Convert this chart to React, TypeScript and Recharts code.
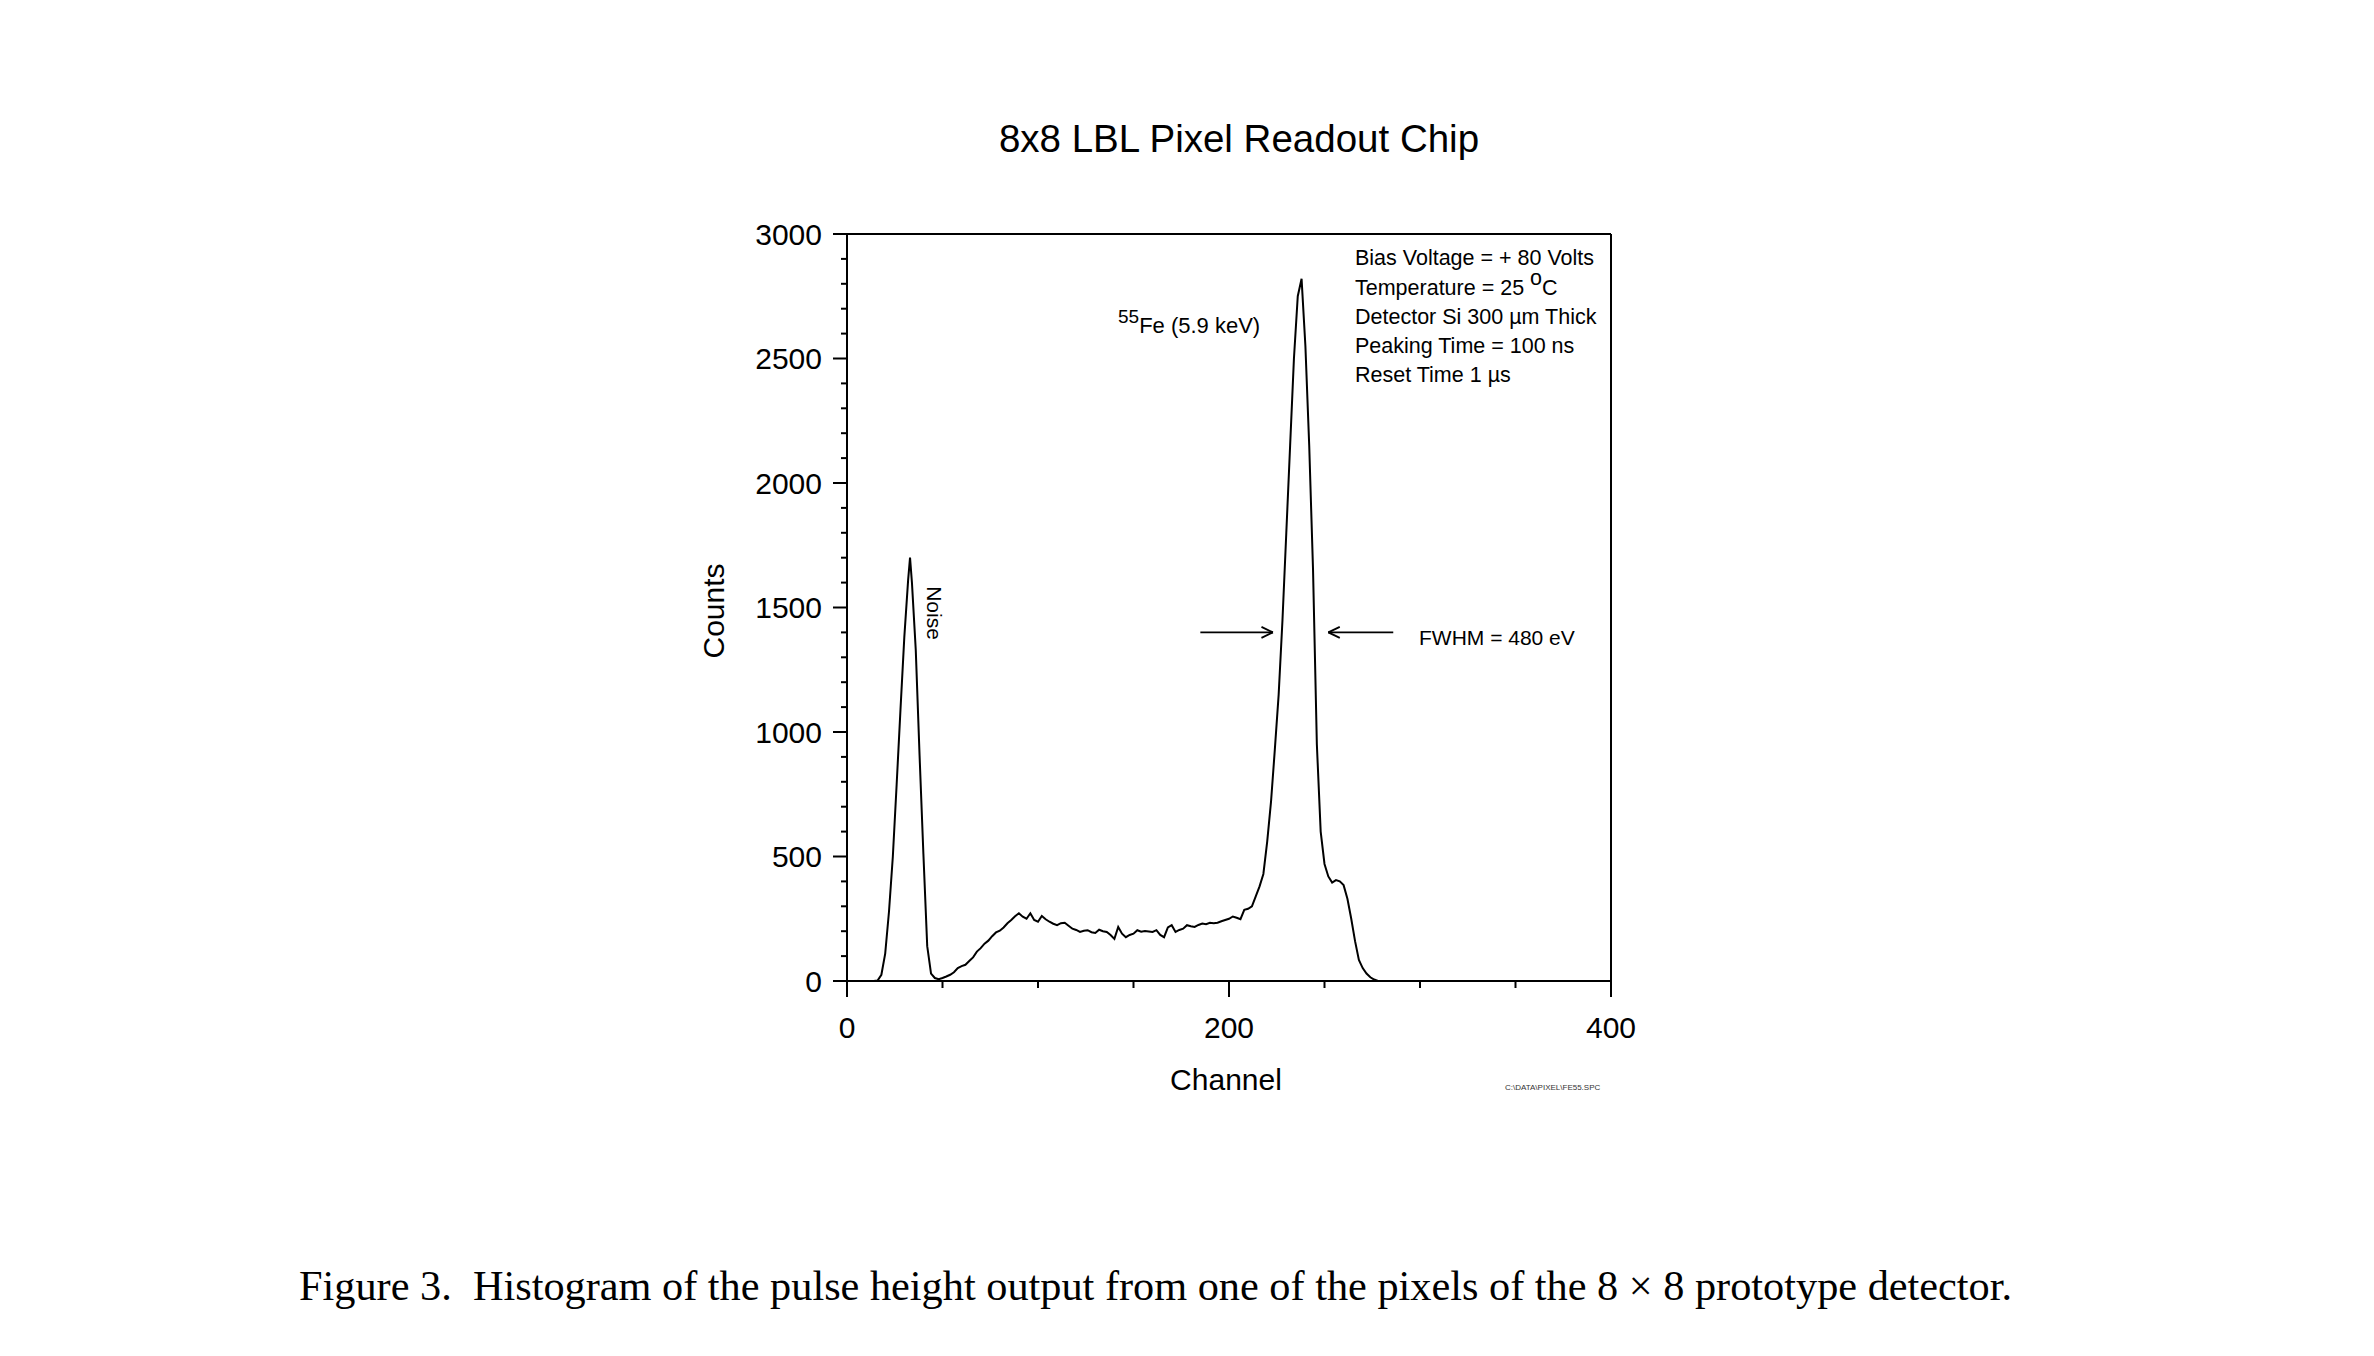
import React from "react"
import { LineChart, Line, XAxis, YAxis, ReferenceLine } from "recharts"

// pulse height histogram (mostly every 2nd channel)
const channels = [
  0, 2, 4, 6, 8, 10, 12, 14, 16, 18, 20, 22, 24, 26, 28, 30, 32, 33, 34, 36, 38,
  40, 42, 44, 46, 48, 50, 52, 54, 56, 58, 60, 62, 64, 66, 68, 70, 72, 74, 76, 78,
  80, 82, 84, 86, 88, 90, 92, 94, 96, 98, 100, 102, 104, 106, 108, 110, 112, 114, 116, 118,
  120, 122, 124, 126, 128, 130, 132, 134, 136, 138, 140, 142, 144, 146, 148, 150, 152, 154, 156, 158,
  160, 162, 164, 166, 168, 170, 172, 174, 176, 178, 180, 182, 184, 186, 188, 190, 192, 194, 196, 198,
  200, 202, 204, 206, 208, 210, 212, 214, 216, 218, 220, 222, 224, 226, 228, 230, 232, 234, 236, 238,
  240, 242, 244, 246, 248, 250, 252, 254, 256, 258, 260, 262, 264, 266, 268, 270, 272, 274, 276, 278,
  280, 282, 284, 286, 288, 290,
]

const counts = [
  0, 0, 0, 0, 0, 0, 0, 0, 2, 25, 110, 280, 500, 790, 1090, 1380, 1610, 1700, 1600, 1330, 905,
  510, 140, 30, 12, 7, 12, 18, 25, 35, 52, 60, 65, 80, 95, 118, 132, 150, 162, 180, 195,
  202, 215, 232, 245, 260, 272, 258, 250, 272, 245, 238, 261, 248, 238, 230, 224, 232, 234, 222, 210,
  205, 197, 202, 204, 196, 193, 206, 200, 197, 185, 169, 217, 190, 176, 185, 190, 204, 198, 201, 199,
  197, 204, 185, 176, 215, 224, 197, 205, 210, 224, 220, 217, 225, 231, 228, 234, 232, 234, 240, 245,
  250, 259, 254, 248, 286, 290, 300, 340, 380, 430, 560, 720, 930, 1150, 1450, 1800, 2150, 2500, 2750, 2820,
  2550, 2150, 1650, 950, 600, 470, 420, 395, 405, 400, 385, 330, 250, 160, 85, 52, 30, 15, 6, 0,
  0, 0, 0, 0, 0, 0,
]

const xTicks = [0, 50, 100, 150, 200, 250, 300, 350, 400]
const xLabelled = [0, 200, 400]
const yTicks = Array.from({ length: 31 }, (_, i) => i * 100)
const yLabelled = [0, 500, 1000, 1500, 2000, 2500, 3000]

const settings = [
  "Bias Voltage = + 80 Volts",
  "Temperature = 25 ",
  "Detector Si 300 \u00b5m Thick",
  "Peaking Time = 100 ns",
  "Reset Time 1 \u00b5s",
]

// FWHM arrows (channel, counts)
const fwhmLevel = 1400
const leftArrow = [185, 223]
const rightArrow = [286, 252]

const data = channels.map((ch, i) => ({ ch, counts: counts[i] }))

const W = 2374
const H = 1356
const FONT = "'Liberation Sans', Arial, Helvetica, sans-serif"

const YTick = (props: any) => {
  const { x, y, payload } = props
  const v = payload.value
  const major = yLabelled.includes(v)
  return (
    <g>
      <line x1={x} x2={x - (major ? 14 : 6)} y1={y} y2={y} stroke="#000" strokeWidth={2} />
      {major && (
        <text x={x - 25} y={y} dy="0.36em" textAnchor="end" fontSize={30} fontFamily={FONT} fill="#000">
          {v}
        </text>
      )}
    </g>
  )
}

const XTick = (props: any) => {
  const { x, y, payload } = props
  const v = payload.value
  const major = xLabelled.includes(v)
  return (
    <g>
      <line x1={x} x2={x} y1={y} y2={y + (major ? 16 : 7)} stroke="#000" strokeWidth={2} />
      {major && (
        <text x={x} y={y + 46} dy="0.36em" textAnchor="middle" fontSize={30} fontFamily={FONT} fill="#000">
          {v}
        </text>
      )}
    </g>
  )
}

const arrow = (from: number, to: number, key: string) => {
  const dir = to > from ? 1 : -1
  return [
    <ReferenceLine key={key + "s"} segment={[{ x: from, y: fwhmLevel }, { x: to, y: fwhmLevel }]} stroke="#000" strokeWidth={1.8} />,
    <ReferenceLine key={key + "a"} segment={[{ x: to - dir * 6, y: fwhmLevel + 22 }, { x: to, y: fwhmLevel }]} stroke="#000" strokeWidth={1.8} />,
    <ReferenceLine key={key + "b"} segment={[{ x: to - dir * 6, y: fwhmLevel - 22 }, { x: to, y: fwhmLevel }]} stroke="#000" strokeWidth={1.8} />,
  ]
}

export default function App() {
  return (
    <div style={{ position: "absolute", left: 0, top: 0, width: W, height: H, overflow: "hidden", background: "#fff" }}>
      <div style={{ position: "absolute", left: 0, top: 0 }}>
        <LineChart width={W} height={H} data={data} margin={{ top: 234, right: W - 1611, bottom: H - 981 - 30, left: 847 - 60 }}>
          <XAxis
            dataKey="ch"
            type="number"
            domain={[0, 400]}
            ticks={xTicks}
            interval={0}
            tickSize={0}
            tickMargin={0}
            height={30}
            stroke="#000"
            strokeWidth={2}
            tick={<XTick />}
          />
          <YAxis
            type="number"
            domain={[0, 3000]}
            ticks={yTicks}
            interval={0}
            tickSize={0}
            tickMargin={0}
            width={60}
            stroke="#000"
            strokeWidth={2}
            tick={<YTick />}
          />
          <ReferenceLine y={3000} stroke="#000" strokeWidth={2} />
          <ReferenceLine x={400} stroke="#000" strokeWidth={2} />
          {arrow(leftArrow[0], leftArrow[1], "l")}
          {arrow(rightArrow[0], rightArrow[1], "r")}
          <Line type="linear" dataKey="counts" stroke="#000" strokeWidth={2} dot={false} isAnimationActive={false} />
        </LineChart>
      </div>
      <svg width={W} height={H} style={{ position: "absolute", left: 0, top: 0, pointerEvents: "none" }}>
        <g fontFamily={FONT} fill="#000">
          <text x={1239} y={152} fontSize={38.5} textAnchor="middle">8x8 LBL Pixel Readout Chip</text>
          <text x={713} y={611} fontSize={30} textAnchor="middle" dy="0.36em" transform="rotate(-90 713 611)">Counts</text>
          <text x={1226} y={1090} fontSize={30} textAnchor="middle">Channel</text>
          <text x={1505} y={1090} fontSize={8} fill="#333">C:\DATA\PIXEL\FE55.SPC</text>
          {settings.map((s, i) => (
            <text key={s} x={1355} y={[265, 295, 324, 353, 382][i]} fontSize={21.5}>
              {s}
              {i === 1 && (
                <>
                  <tspan dy={-10}>o</tspan>
                  <tspan dy={10}>C</tspan>
                </>
              )}
            </text>
          ))}
          <text x={1118} y={333} fontSize={22}>
            <tspan fontSize={19} dy={-10}>55</tspan>
            <tspan dy={10}>Fe (5.9 keV)</tspan>
          </text>
          <text x={935} y={613} fontSize={21} textAnchor="middle" dy="0.36em" transform="rotate(90 935 613)">Noise</text>
          <text x={1419} y={645} fontSize={21}>FWHM = 480 eV</text>
        </g>
        <text x={299} y={1300} fontSize={42.3} fontFamily="'Liberation Serif', 'Times New Roman', serif" fill="#000">
          Figure 3.{"\u00a0\u00a0"}Histogram of the pulse height output from one of the pixels of the 8 {"\u00d7"} 8 prototype detector.
        </text>
      </svg>
    </div>
  )
}
